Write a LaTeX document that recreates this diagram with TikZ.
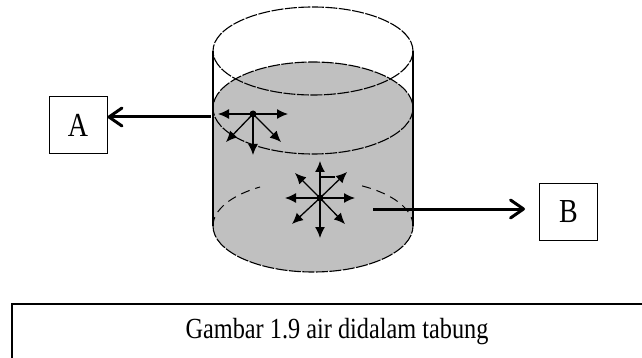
\documentclass[tikz,border=0pt]{standalone}
\usepackage{fontspec}
\usepackage{graphicx}
\setmainfont{Liberation Serif}
\usetikzlibrary{shapes,arrows.meta,positioning}
\definecolor{water}{RGB}{192,192,192}
\newcommand{\tall}[1]{\scalebox{1}[1.2]{#1}} % letters a bit taller than wide

\begin{document}
\begin{tikzpicture}[x=1pt,y=-1pt,
	rim/.style={line width=1.1pt, dash pattern=on 12pt off 1.5pt},
	force/.style={line width=1.3pt, -{Latex[length=11pt,width=10pt]}},
	pointer/.style={line width=3pt, -{Straight Barb[round,length=13pt,width=18pt]}},
	labelbox/.style={draw, line width=1pt, minimum width=58pt, minimum height=57pt, font=\fontsize{28}{32}\selectfont}]
\useasboundingbox (0,0) rectangle (642,358); % page = 642 x 358
\clip (0,0) rectangle (642,358);

% water inside the tube
\fill[water] (213,108) -- (213,226) arc[start angle=180, end angle=0, x radius=100, y radius=46]
	-- (413,108) arc[start angle=0, end angle=-180, x radius=100, y radius=46] -- cycle;

% the tube: walls, mouth, water surface and bottom
\draw[line width=1.1pt] (213,51) -- (213,226) (413,51) -- (413,226);
\draw[rim] (313,51) ellipse[x radius=100, y radius=44];
\draw[rim] (313,108) ellipse[x radius=100, y radius=46];
\draw[rim] (213,226) arc[start angle=180, end angle=0, x radius=100, y radius=46];
\draw[line width=1pt, dash pattern=on 9pt off 6pt] (213,226) arc[start angle=180, end angle=238, x radius=100, y radius=46];
\draw[line width=1pt, dash pattern=on 9pt off 6pt] (413,226) arc[start angle=0, end angle=-62, x radius=100, y radius=46];

% pressure at point A, near the surface
\coordinate (ptA) at (253,114);
\foreach \dx/\dy in {-35/0, 35/0, 0/41, -27/28, 28/28}
	\draw[force] (ptA) -- ++(\dx,\dy);
\fill (ptA) circle (3.5);

% pressure at point B, deeper down
\coordinate (ptB) at (320,198);
\foreach \dx/\dy in {0/-37, 0/40, -35/0, 35/0, -25/-25, 27/-26, -28/26, 25/26}
	\draw[force] (ptB) -- ++(\dx,\dy);
\draw[line width=1.3pt] (ptB) ++(0,-21) -- ++(15,0);
\fill (ptB) circle (3.5);

% labels
\node[labelbox] (boxA) at (78,125) {\tall{A}};
\node[labelbox] (boxB) at (568.5,212) {\tall{B}};
\coordinate (srcA) at (211,117);
\draw[pointer] (srcA) -- (srcA -| boxA.east);
\coordinate (srcB) at (373,209);
\draw[pointer, shorten >=14pt] (srcB) -- (srcB -| boxB.west);

% caption frame
\node[font=\fontsize{24.3}{28}\selectfont] (caption) at (337,332) {\tall{Gambar 1.9 air didalam tabung}};
\draw[line width=1.5pt] (12,358) -- (12,304) -- (642,304);
\end{tikzpicture}
\end{document}
